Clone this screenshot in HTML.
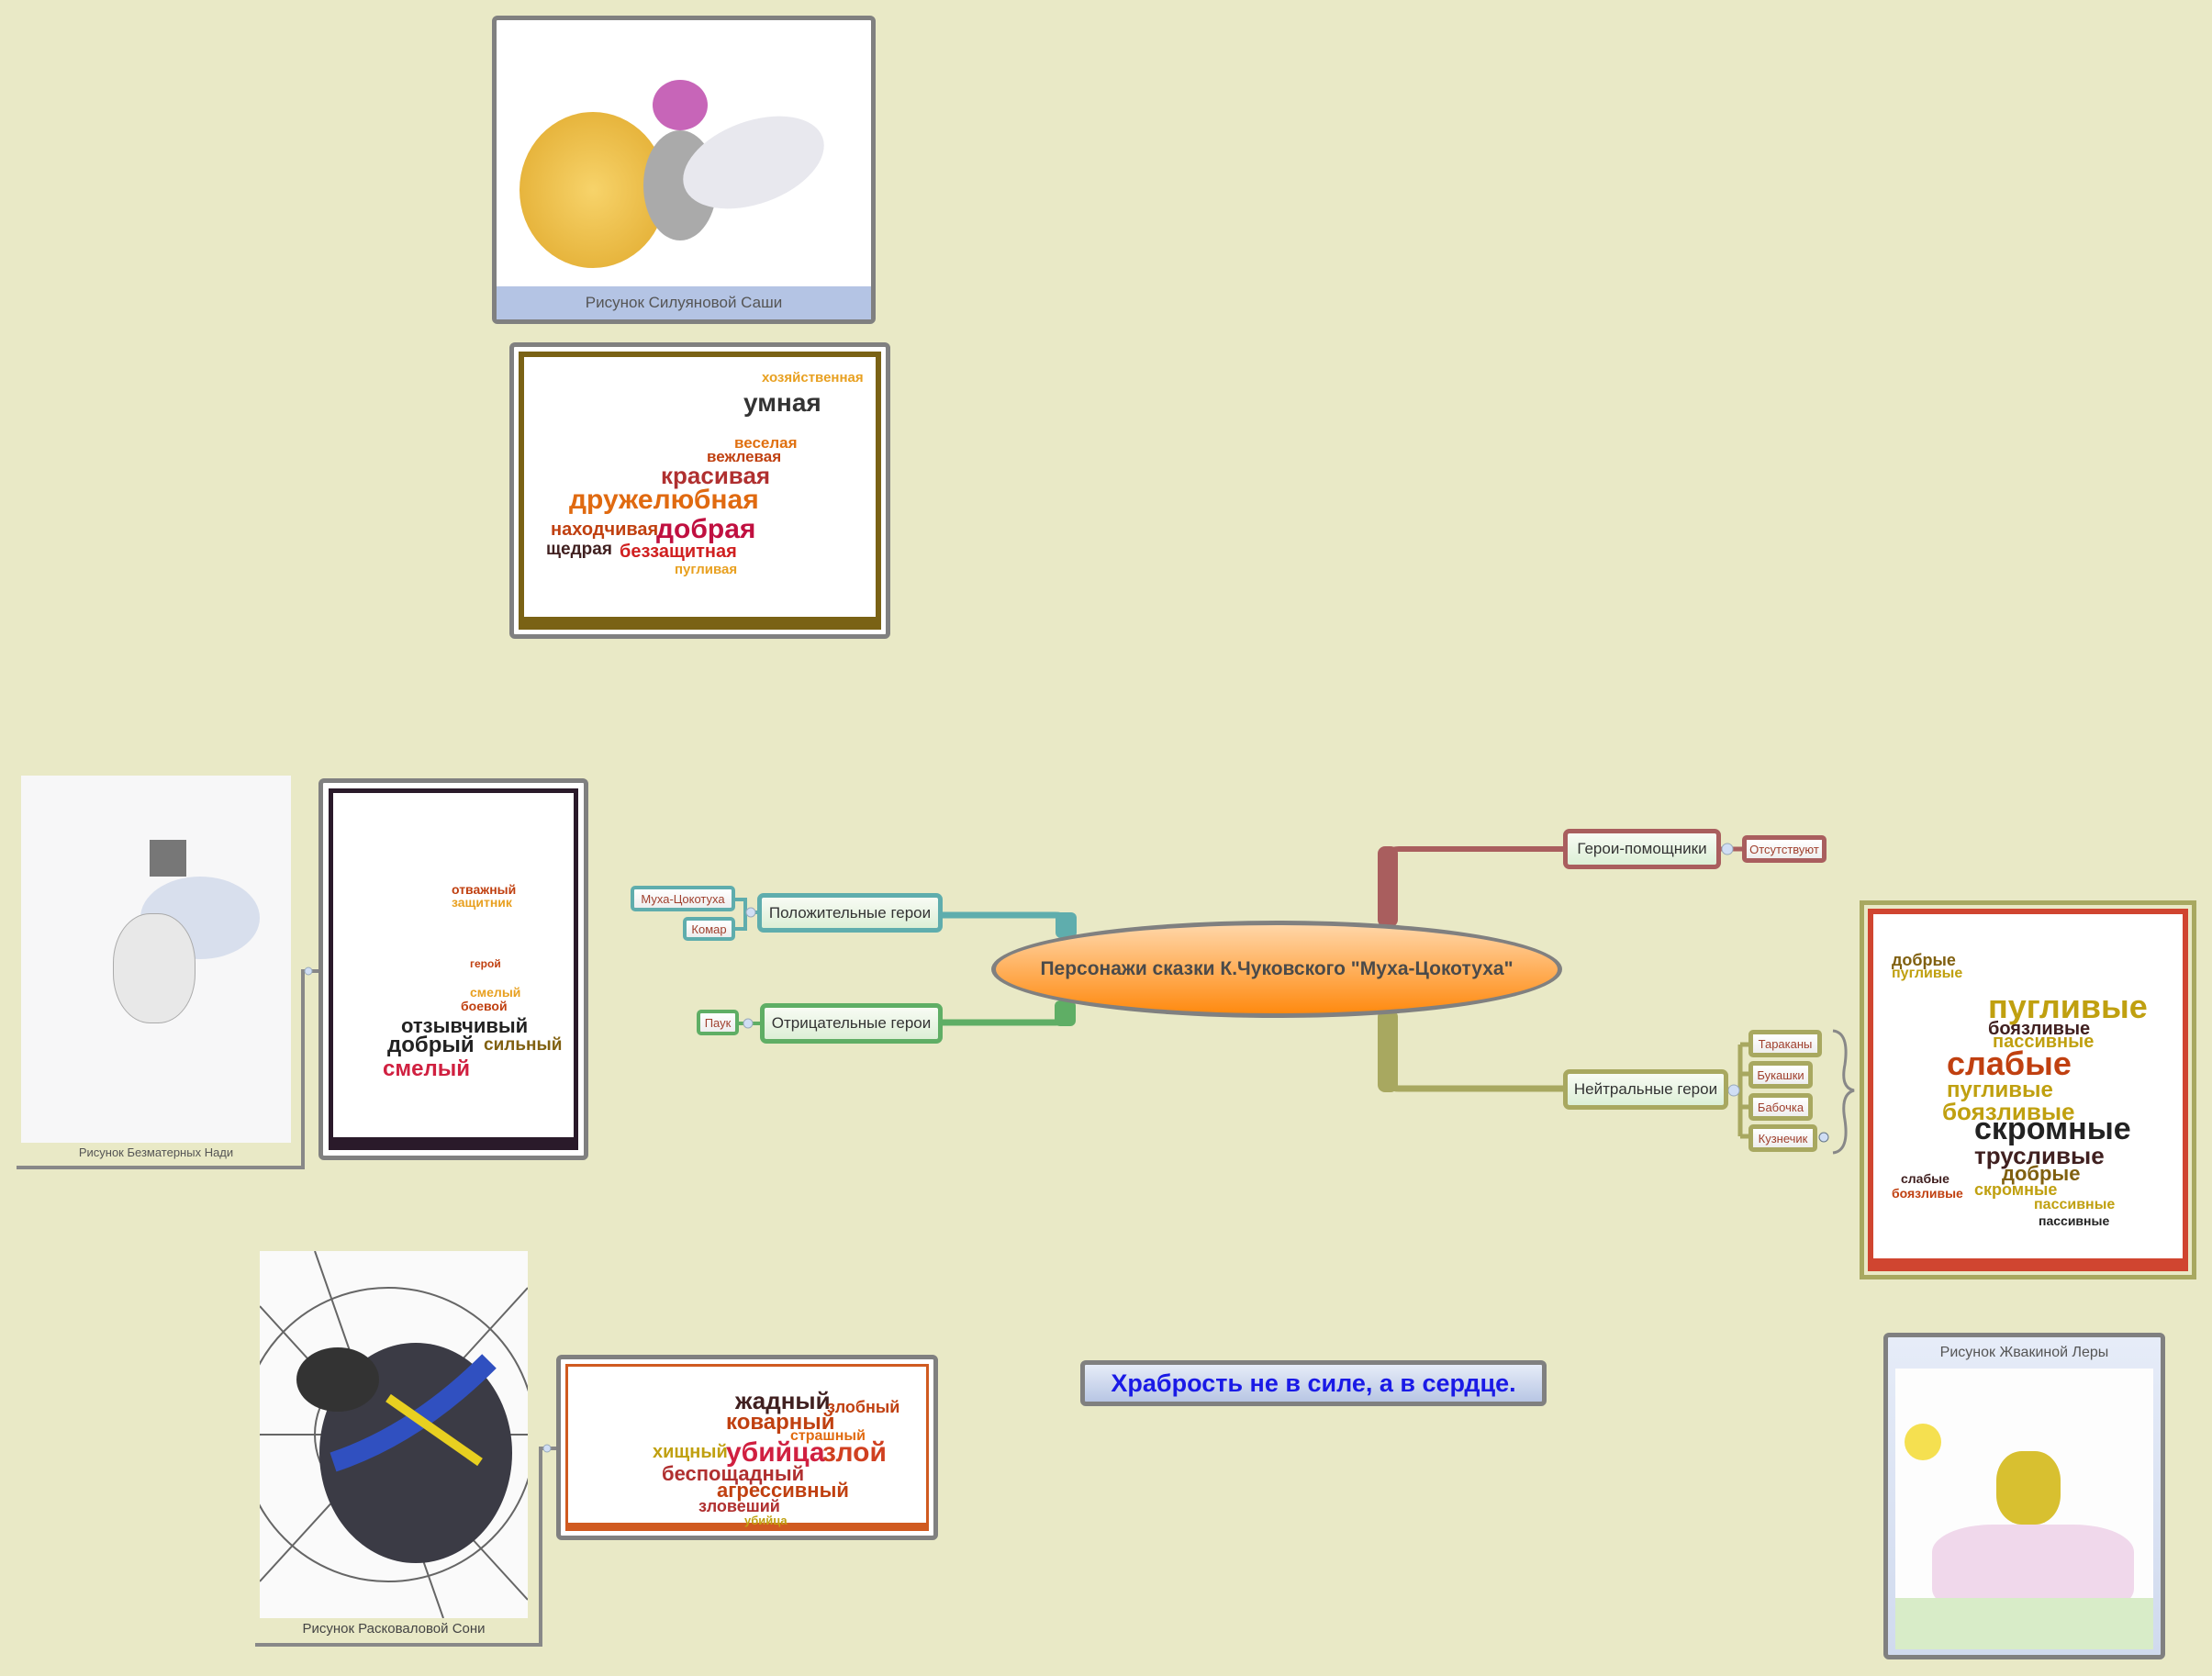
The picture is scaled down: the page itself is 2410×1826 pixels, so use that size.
<!DOCTYPE html>
<html><head><meta charset="utf-8"><style>
body{margin:0;width:2410px;height:1826px;background:#e9e9c6;position:relative;overflow:hidden;font-family:"Liberation Sans","DejaVu Sans",sans-serif}
.a{position:absolute;box-sizing:border-box}
.node{position:absolute;box-sizing:border-box;border-radius:7px;background:linear-gradient(#f8fbf4,#dcefd6);color:#333;font-size:17px;display:flex;align-items:center;justify-content:center;white-space:nowrap}
.sm{position:absolute;box-sizing:border-box;border-radius:5px;background:linear-gradient(#fff,#eee);color:#a0402e;font-size:13px;display:flex;align-items:center;justify-content:center;white-space:nowrap}
.wc span{position:absolute;white-space:nowrap;font-weight:bold}
</style></head><body>

<svg class="a" style="left:0;top:0" width="2410" height="1826">
 <path d="M1512 1010 V935 Q1512 925 1524 925 H1705" fill="none" stroke="#a95e5e" stroke-width="6"/>
 <rect x="1501" y="922" width="22" height="88" rx="8" fill="#a95e5e"/>
 <path d="M1512 1100 V1176 Q1512 1186 1524 1186 H1705" fill="none" stroke="#a8a860" stroke-width="7"/>
 <rect x="1501" y="1100" width="22" height="90" rx="8" fill="#a8a860"/>
 <path d="M1161 1020 V1004 Q1161 997 1150 997 H1025" fill="none" stroke="#5fadad" stroke-width="7"/>
 <rect x="1150" y="994" width="23" height="28" rx="6" fill="#5fadad"/>
 <path d="M1160 1090 V1107 Q1160 1114 1150 1114 H1025" fill="none" stroke="#5fae65" stroke-width="7"/>
 <rect x="1149" y="1090" width="23" height="28" rx="6" fill="#5fae65"/>
 <path d="M1875 925 H1900" stroke="#a95e5e" stroke-width="5"/>
 <path d="M1883 1187 H1896 M1896 1138 V1238 M1896 1138 H1908 M1896 1170 H1908 M1896 1206 H1908 M1896 1238 H1908" stroke="#a8a860" stroke-width="5" fill="none"/>
 <path d="M825 994 H812 V980 H800 M812 994 V1012 H800" stroke="#5fadad" stroke-width="4" fill="none"/>
 <path d="M828 1115 H805" stroke="#5fae65" stroke-width="4"/>
 <circle cx="1882" cy="925" r="6" fill="#d0def4" stroke="#9ab"/>
 <circle cx="1889" cy="1188" r="6" fill="#d0def4" stroke="#9ab"/>
 <circle cx="818" cy="994" r="5" fill="#d0def4" stroke="#9ab"/>
 <circle cx="815" cy="1115" r="5" fill="#d0def4" stroke="#9ab"/>
 <circle cx="1987" cy="1239" r="5" fill="#d0def4" stroke="#678"/>
 <path d="M1997 1123 Q2015 1125 2010 1160 Q2005 1185 2020 1188 Q2005 1192 2010 1220 Q2015 1254 1997 1256" fill="none" stroke="#888" stroke-width="3"/>
 <path d="M18 1272 H330 V1058 H347" fill="none" stroke="#888" stroke-width="4"/>
 <path d="M278 1792 H589 V1578 H606" fill="none" stroke="#888" stroke-width="4"/>
 <circle cx="336" cy="1058" r="4" fill="#d0def4" stroke="#9ab"/>
 <circle cx="596" cy="1578" r="4" fill="#d0def4" stroke="#9ab"/>
</svg>

<div class="a" style="left:1080px;top:1003px;width:622px;height:106px;border-radius:50%;border:5px solid #808080;background:linear-gradient(#ffd6a8,#ff8a10);display:flex;align-items:center;justify-content:center;font-weight:bold;font-size:21px;color:#4a4a4a">Персонажи сказки К.Чуковского "Муха-Цокотуха"</div>

<div class="node" style="left:825px;top:973px;width:202px;height:43px;border:5px solid #5fadad">Положительные герои</div>
<div class="node" style="left:828px;top:1093px;width:199px;height:44px;border:5px solid #5fae65">Отрицательные герои</div>
<div class="node" style="left:1703px;top:903px;width:172px;height:44px;border:5px solid #a95e5e">Герои-помощники</div>
<div class="node" style="left:1703px;top:1165px;width:180px;height:44px;border:5px solid #a8a860">Нейтральные герои</div>

<div class="sm" style="left:687px;top:965px;width:114px;height:28px;border:4px solid #5fadad">Муха-Цокотуха</div>
<div class="sm" style="left:744px;top:999px;width:57px;height:26px;border:4px solid #5fadad">Комар</div>
<div class="sm" style="left:759px;top:1100px;width:46px;height:28px;border:4px solid #5fae65">Паук</div>
<div class="sm" style="left:1898px;top:910px;width:92px;height:30px;border:5px solid #a95e5e">Отсутствуют</div>
<div class="sm" style="left:1905px;top:1122px;width:80px;height:30px;border:5px solid #a8a860">Тараканы</div>
<div class="sm" style="left:1905px;top:1156px;width:70px;height:30px;border:5px solid #a8a860">Букашки</div>
<div class="sm" style="left:1905px;top:1191px;width:70px;height:30px;border:5px solid #a8a860">Бабочка</div>
<div class="sm" style="left:1905px;top:1225px;width:75px;height:30px;border:5px solid #a8a860">Кузнечик</div>

<div class="a" style="left:536px;top:17px;width:418px;height:336px;border:5px solid #808080;border-radius:6px;background:#fff">
 <div class="a" style="left:25px;top:100px;width:160px;height:170px;border-radius:50%;background:radial-gradient(#f7d36a,#e0a82a)"></div>
 <div class="a" style="left:160px;top:120px;width:80px;height:120px;border-radius:50%;background:#aaa"></div>
 <div class="a" style="left:200px;top:110px;width:160px;height:90px;border-radius:50%;background:#e8e8ee;transform:rotate(-20deg)"></div>
 <div class="a" style="left:170px;top:65px;width:60px;height:55px;border-radius:50%;background:#c765b8"></div>
 <div class="a" style="left:0;bottom:0;width:408px;height:36px;background:#b4c4e4;color:#555;font-size:17px;text-align:center;line-height:36px">Рисунок Силуяновой Саши</div>
</div>

<div class="a wc" style="left:555px;top:373px;width:415px;height:323px;border:5px solid #808080;border-radius:6px;background:#fff">
 <div class="a" style="left:5px;top:5px;width:395px;height:303px;border:6px solid #7a6215;border-bottom-width:14px"></div>
 <span style="left:270px;top:25px;font-size:15px;color:#e8a020">хозяйственная</span>
 <span style="left:250px;top:45px;font-size:28px;color:#333">умная</span>
 <span style="left:240px;top:95px;font-size:17px;color:#e07010">веселая</span>
 <span style="left:210px;top:110px;font-size:17px;color:#c04010">вежлевая</span>
 <span style="left:160px;top:125px;font-size:26px;color:#b03030">красивая</span>
 <span style="left:60px;top:150px;font-size:30px;color:#e06a10">дружелюбная</span>
 <span style="left:40px;top:188px;font-size:20px;color:#c04010">находчивая</span>
 <span style="left:155px;top:182px;font-size:30px;color:#c01040">добрая</span>
 <span style="left:35px;top:210px;font-size:19px;color:#402020">щедрая</span>
 <span style="left:115px;top:212px;font-size:20px;color:#d02020">беззащитная</span>
 <span style="left:175px;top:234px;font-size:15px;color:#e8a020">пугливая</span>
</div>

<div class="a" style="left:23px;top:845px;width:294px;height:400px;background:#f7f7f8">
 <div class="a" style="left:130px;top:110px;width:130px;height:90px;border-radius:50%;background:#cfd8ea;opacity:.8"></div>
 <div class="a" style="left:140px;top:70px;width:40px;height:40px;background:#777"></div>
 <div class="a" style="left:100px;top:150px;width:90px;height:120px;border-radius:45%;background:#e8e8e8;border:1px solid #aaa"></div>
</div>
<div class="a" style="left:23px;top:1248px;width:294px;text-align:center;font-size:13px;color:#555">Рисунок Безматерных Нади</div>

<div class="a wc" style="left:347px;top:848px;width:294px;height:416px;border:5px solid #808080;border-radius:6px;background:#fff">
 <div class="a" style="left:6px;top:6px;width:272px;height:394px;border:5px solid #2a1a2a;border-bottom-width:14px"></div>
 <span style="left:140px;top:108px;font-size:14px;color:#c04010">отважный</span>
 <span style="left:140px;top:122px;font-size:14px;color:#e8a020">защитник</span>
 <span style="left:160px;top:190px;font-size:12px;color:#c04010">герой</span>
 <span style="left:160px;top:220px;font-size:14px;color:#e8a020">смелый</span>
 <span style="left:150px;top:235px;font-size:14px;color:#c04010">боевой</span>
 <span style="left:85px;top:252px;font-size:22px;color:#222">отзывчивый</span>
 <span style="left:70px;top:272px;font-size:24px;color:#222">добрый</span>
 <span style="left:175px;top:275px;font-size:19px;color:#806010">сильный</span>
 <span style="left:65px;top:298px;font-size:24px;color:#d02040">смелый</span>
</div>

<div class="a wc" style="left:2026px;top:981px;width:367px;height:413px;border:5px solid #a8a860;background:#e9e9c6">
 <div class="a" style="left:4px;top:4px;width:349px;height:395px;border:6px solid #d04530;border-bottom-width:14px;background:#fff"></div>
 <span style="left:30px;top:50px;font-size:18px;color:#806010">добрые</span>
 <span style="left:30px;top:66px;font-size:16px;color:#c0a010">пугливые</span>
 <span style="left:135px;top:90px;font-size:36px;color:#c0a010">пугливые</span>
 <span style="left:135px;top:124px;font-size:20px;color:#402020">боязливые</span>
 <span style="left:140px;top:138px;font-size:20px;color:#c0a010">пассивные</span>
 <span style="left:90px;top:152px;font-size:36px;color:#c04010">слабые</span>
 <span style="left:90px;top:188px;font-size:24px;color:#c0a010">пугливые</span>
 <span style="left:85px;top:210px;font-size:26px;color:#c0a010">боязливые</span>
 <span style="left:120px;top:225px;font-size:34px;color:#222">скромные</span>
 <span style="left:120px;top:258px;font-size:26px;color:#402020">трусливые</span>
 <span style="left:150px;top:280px;font-size:22px;color:#806010">добрые</span>
 <span style="left:40px;top:290px;font-size:14px;color:#402020">слабые</span>
 <span style="left:120px;top:300px;font-size:18px;color:#c0a010">скромные</span>
 <span style="left:30px;top:306px;font-size:14px;color:#c04010">боязливые</span>
 <span style="left:185px;top:318px;font-size:16px;color:#c0a010">пассивные</span>
 <span style="left:190px;top:336px;font-size:14px;color:#222">пассивные</span>
</div>

<div class="a" style="left:283px;top:1363px;width:292px;height:400px;background:#fafafa">
 <svg width="292" height="400"><g stroke="#666" fill="none" stroke-width="2"><path d="M0 60 L292 380 M60 0 L200 400 M292 40 L0 360 M0 200 H292"/><circle cx="140" cy="200" r="80"/><circle cx="140" cy="200" r="160"/></g>
 <ellipse cx="170" cy="220" rx="105" ry="120" fill="#3b3b45"/><ellipse cx="85" cy="140" rx="45" ry="35" fill="#333"/>
 <path d="M80 230 Q170 200 250 120" stroke="#3050c0" stroke-width="22" fill="none"/><path d="M140 160 L240 230" stroke="#e8d020" stroke-width="10"/></svg>
</div>
<div class="a" style="left:283px;top:1766px;width:292px;text-align:center;font-size:15px;color:#444">Рисунок Расковаловой Сони</div>

<div class="a wc" style="left:606px;top:1476px;width:416px;height:202px;border:5px solid #808080;border-radius:6px;background:#fff">
 <div class="a" style="left:5px;top:5px;width:396px;height:182px;border:3px solid #d05a20;border-bottom-width:9px"></div>
 <span style="left:190px;top:30px;font-size:26px;color:#402020">жадный</span>
 <span style="left:290px;top:42px;font-size:18px;color:#c04010">злобный</span>
 <span style="left:180px;top:55px;font-size:24px;color:#c04010">коварный</span>
 <span style="left:250px;top:75px;font-size:16px;color:#e06a10">страшный</span>
 <span style="left:100px;top:90px;font-size:20px;color:#c0a010">хищный</span>
 <span style="left:180px;top:85px;font-size:30px;color:#d02040">убийца</span>
 <span style="left:285px;top:85px;font-size:30px;color:#d04020">злой</span>
 <span style="left:110px;top:112px;font-size:22px;color:#b03030">беспощадный</span>
 <span style="left:170px;top:130px;font-size:22px;color:#c04010">агрессивный</span>
 <span style="left:150px;top:150px;font-size:18px;color:#b03030">зловеший</span>
 <span style="left:200px;top:168px;font-size:13px;color:#c0a010">убийца</span>
</div>

<div class="a" style="left:1177px;top:1482px;width:508px;height:50px;border:5px solid #808080;border-radius:6px;background:linear-gradient(#e6ecf8,#b8c6e4);display:flex;align-items:center;justify-content:center;font-weight:bold;font-size:27px;color:#1a1ae6">Храбрость не в силе, а в сердце.</div>

<div class="a" style="left:2052px;top:1452px;width:307px;height:356px;border:5px solid #808080;border-radius:6px;background:linear-gradient(#e6ecf8,#d0daee)">
 <div class="a" style="left:0;top:8px;width:297px;text-align:center;font-size:16px;color:#555">Рисунок Жвакиной Леры</div>
 <div class="a" style="left:8px;top:34px;width:281px;height:306px;background:#fdfdfd">
  <div class="a" style="left:10px;top:60px;width:40px;height:40px;border-radius:50%;background:#f5e050"></div>
  <div class="a" style="left:110px;top:90px;width:70px;height:80px;border-radius:40%;background:#d8c030"></div>
  <div class="a" style="left:40px;top:170px;width:220px;height:100px;border-radius:30%;background:#e8c0e0;opacity:.6"></div>
  <div class="a" style="left:0;top:250px;width:281px;height:56px;background:#d8ecc8"></div>
 </div>
</div>
</body></html>
